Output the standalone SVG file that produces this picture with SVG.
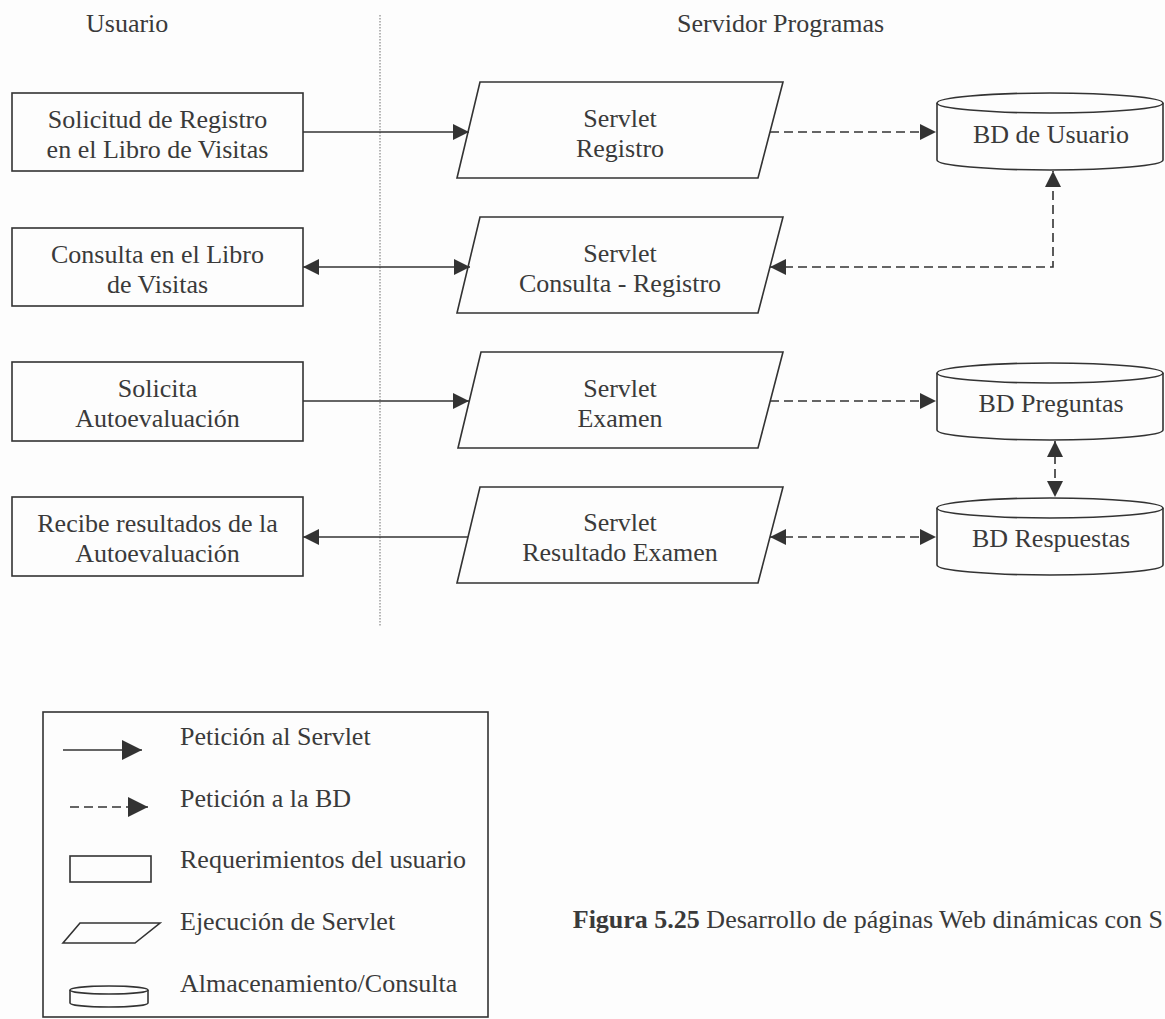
<svg xmlns="http://www.w3.org/2000/svg" width="1165" height="1019" viewBox="0 0 1165 1019">
  <style>
    text { font-family: "Liberation Serif", "Times New Roman", serif; font-size: 26px; fill: #3a3a3a; }
    .c { text-anchor: middle; }
    .shape { fill: #fdfdfd; stroke: #333; stroke-width: 1.6; }
    .solid { fill: none; stroke: #333; stroke-width: 1.6; }
    .dash { fill: none; stroke: #333; stroke-width: 1.6; stroke-dasharray: 9 5; }
    .divider { fill: none; stroke: #888; stroke-width: 1.2; stroke-dasharray: 1.5 1.5; }
  </style>
  <defs>
    <marker id="ah" viewBox="0 0 16 16" markerWidth="16" markerHeight="16" refX="16" refY="8" orient="auto-start-reverse" markerUnits="userSpaceOnUse">
      <path d="M0,0 L16,8 L0,16 Z" fill="#333"/>
    </marker>
    <marker id="ahL" viewBox="0 0 20 20" markerWidth="20" markerHeight="20" refX="20" refY="10" orient="auto" markerUnits="userSpaceOnUse">
      <path d="M0,0 L20,10 L0,20 Z" fill="#333"/>
    </marker>
  </defs>

  <rect width="1165" height="1019" fill="#fdfdfd"/>

  <!-- column headers and divider -->
  <g id="headers">
    <text x="86" y="32">Usuario</text>
    <text x="677" y="32">Servidor Programas</text>
    <line class="divider" x1="380" y1="15" x2="380" y2="627"/>
  </g>

  <!-- user requests -->
  <g id="req-registro">
    <rect class="shape" x="12" y="93" width="291" height="78"/>
    <text class="c" x="157.5" y="128">Solicitud de Registro</text>
    <text class="c" x="157.5" y="158">en el Libro de Visitas</text>
  </g>
  <g id="req-consulta">
    <rect class="shape" x="12" y="228" width="291" height="78"/>
    <text class="c" x="157.5" y="263">Consulta en el Libro</text>
    <text class="c" x="157.5" y="293">de Visitas</text>
  </g>
  <g id="req-autoevaluacion">
    <rect class="shape" x="12" y="362" width="291" height="79"/>
    <text class="c" x="157.5" y="397">Solicita</text>
    <text class="c" x="157.5" y="427">Autoevaluación</text>
  </g>
  <g id="req-resultados">
    <rect class="shape" x="12" y="497" width="291" height="79"/>
    <text class="c" x="157.5" y="532">Recibe resultados de la</text>
    <text class="c" x="157.5" y="562">Autoevaluación</text>
  </g>

  <!-- servlets -->
  <g id="servlet-registro">
    <polygon class="shape" points="480,82 783,82 758,178 457,178"/>
    <text class="c" x="620" y="127">Servlet</text>
    <text class="c" x="620" y="157">Registro</text>
  </g>
  <g id="servlet-consulta">
    <polygon class="shape" points="480,217 783,217 758,313 457,313"/>
    <text class="c" x="620" y="262">Servlet</text>
    <text class="c" x="620" y="292">Consulta - Registro</text>
  </g>
  <g id="servlet-examen">
    <polygon class="shape" points="481,352 783,352 758,448 458,448"/>
    <text class="c" x="620" y="397">Servlet</text>
    <text class="c" x="620" y="427">Examen</text>
  </g>
  <g id="servlet-resultado">
    <polygon class="shape" points="480,487 783,487 758,583 457,583"/>
    <text class="c" x="620" y="531">Servlet</text>
    <text class="c" x="620" y="561">Resultado Examen</text>
  </g>

  <!-- databases -->
  <g id="bd-usuario">
    <path class="shape" d="M937,103 L937,160 A113,10 0 0 0 1163,160 L1163,103"/>
    <ellipse class="shape" cx="1050" cy="103" rx="113" ry="10"/>
    <text class="c" x="1051" y="143">BD de Usuario</text>
  </g>
  <g id="bd-preguntas">
    <path class="shape" d="M937,373 L937,430 A113,10 0 0 0 1163,430 L1163,373"/>
    <ellipse class="shape" cx="1050" cy="373" rx="113" ry="10"/>
    <text class="c" x="1051" y="412">BD Preguntas</text>
  </g>
  <g id="bd-respuestas">
    <path class="shape" d="M937,508 L937,565 A113,10 0 0 0 1163,565 L1163,508"/>
    <ellipse class="shape" cx="1050" cy="508" rx="113" ry="10"/>
    <text class="c" x="1051" y="547">BD Respuestas</text>
  </g>

  <!-- connectors -->
  <g id="connectors">
    <line class="solid" x1="303" y1="132" x2="469" y2="132" marker-end="url(#ah)"/>
    <line class="solid" x1="303" y1="267" x2="470" y2="267" marker-start="url(#ah)" marker-end="url(#ah)"/>
    <line class="solid" x1="303" y1="401" x2="469" y2="401" marker-end="url(#ah)"/>
    <line class="solid" x1="468" y1="537" x2="303" y2="537" marker-end="url(#ah)"/>

    <line class="dash" x1="770" y1="132" x2="936" y2="132" marker-end="url(#ah)"/>
    <path class="dash" d="M770,267 L1053,267 L1053,171" marker-start="url(#ah)" marker-end="url(#ah)"/>
    <line class="dash" x1="770" y1="401" x2="936" y2="401" marker-end="url(#ah)"/>
    <line class="dash" x1="1055" y1="441" x2="1055" y2="497" marker-start="url(#ah)" marker-end="url(#ah)"/>
    <line class="dash" x1="770" y1="537" x2="936" y2="537" marker-start="url(#ah)" marker-end="url(#ah)"/>
  </g>

  <!-- legend -->
  <g id="legend">
    <rect class="shape" x="43" y="712" width="445" height="305"/>
    <line class="solid" x1="63" y1="750" x2="142" y2="750" marker-end="url(#ahL)"/>
    <text x="180" y="745">Petición al Servlet</text>
    <line class="dash" x1="70" y1="807" x2="148" y2="807" stroke-dasharray="6 4" marker-end="url(#ahL)"/>
    <text x="180" y="807">Petición a la BD</text>
    <rect class="shape" x="70" y="856" width="81" height="26"/>
    <text x="180" y="868">Requerimientos del usuario</text>
    <polygon class="shape" points="80,923 160,923 135,943 63,943"/>
    <text x="180" y="930">Ejecución de Servlet</text>
    <path class="shape" d="M70,990 L70,1003 A39,4 0 0 0 148,1003 L148,990"/>
    <ellipse class="shape" cx="109" cy="990" rx="39" ry="4"/>
    <text x="180" y="992">Almacenamiento/Consulta</text>
  </g>

  <!-- figure caption, running to the right edge -->
  <text x="1163" y="928" text-anchor="end"><tspan font-weight="bold">Figura 5.25</tspan> Desarrollo de páginas Web dinámicas con S</text>
</svg>
